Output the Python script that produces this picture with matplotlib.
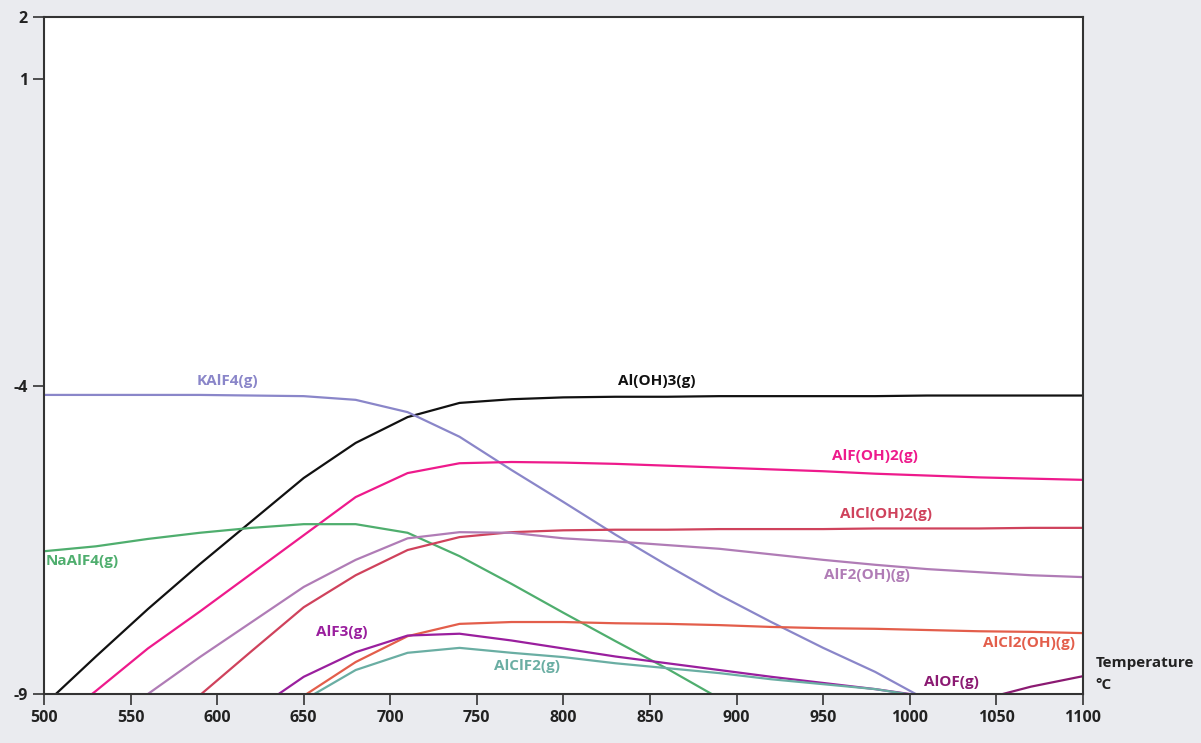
# gas species vs temperature, recreated from the reference picture

import numpy as np
import matplotlib
matplotlib.use('Agg')
import matplotlib.pyplot as plt

plt.rcParams['font.family'] = ['Open Sans', 'DejaVu Sans']
plt.rcParams['axes.unicode_minus'] = False

nan = np.nan

temps = [500, 530, 560, 590, 620, 650, 680, 710, 740, 770, 800,
         830, 860, 890, 920, 950, 980, 1010, 1040, 1070, 1100]

al_oh3 = [-9.18, -8.39, -7.62, -6.89, -6.19, -5.49, -4.92, -4.50, -4.27, -4.21, -4.18,
          -4.17, -4.17, -4.16, -4.16, -4.16, -4.16, -4.15, -4.15, -4.15, -4.15]
kalf4 = [-4.14, -4.14, -4.14, -4.14, -4.15, -4.16, -4.22, -4.42, -4.82, -5.36, -5.88,
         -6.41, -6.91, -7.39, -7.83, -8.25, -8.64, -9.1, nan, nan, nan]
alf_oh2 = [-9.6, -8.95, -8.26, -7.66, -7.04, -6.42, -5.80, -5.41, -5.25, -5.23, -5.24,
           -5.26, -5.29, -5.32, -5.35, -5.38, -5.42, -5.45, -5.48, -5.50, -5.52]
naalf4 = [-6.68, -6.60, -6.48, -6.38, -6.30, -6.24, -6.24, -6.38, -6.76, -7.21, -7.68,
          -8.14, -8.59, -9.07, nan, nan, nan, nan, nan, nan, nan]
alcl_oh2 = [nan, nan, -9.7, -9.02, -8.30, -7.59, -7.07, -6.66, -6.45, -6.37, -6.34,
            -6.33, -6.33, -6.32, -6.32, -6.32, -6.31, -6.31, -6.31, -6.30, -6.30]
alf2_oh = [nan, -9.6, -9.0, -8.40, -7.83, -7.26, -6.82, -6.47, -6.37, -6.38, -6.47,
           -6.52, -6.58, -6.64, -6.73, -6.82, -6.90, -6.97, -7.02, -7.07, -7.10]
alcl2_oh = [nan, nan, nan, nan, -9.8, -9.03, -8.48, -8.06, -7.86, -7.83, -7.83,
            -7.85, -7.86, -7.88, -7.91, -7.93, -7.94, -7.96, -7.98, -7.99, -8.01]
alf3 = [nan, nan, nan, nan, -9.3, -8.72, -8.32, -8.05, -8.02, -8.13, -8.26,
        -8.39, -8.50, -8.61, -8.72, -8.82, -8.92, -9.04, nan, nan, nan]
alclf2 = [nan, nan, nan, nan, nan, -9.1, -8.61, -8.33, -8.25, -8.33, -8.40,
          -8.50, -8.58, -8.66, -8.76, -8.84, -8.92, -9.05, nan, nan, nan]
alof = [nan, nan, nan, nan, nan, nan, nan, nan, nan, nan, nan,
        nan, nan, nan, nan, nan, nan, nan, -9.1, -8.88, -8.71]

series = [
    (al_oh3, '#111111'),
    (kalf4, '#8a86c9'),
    (alf_oh2, '#ee1a8c'),
    (naalf4, '#4fae6e'),
    (alcl_oh2, '#cf425c'),
    (alf2_oh, '#b07cb6'),
    (alcl2_oh, '#e35e4b'),
    (alf3, '#9a1f9e'),
    (alclf2, '#6aaea3'),
    (alof, '#8b1a72'),
]

# label text, x, y, colour, alignment
labels = [
    ('KAlF4(g)', 606, -3.92, '#8a86c9', 'center'),
    ('Al(OH)3(g)', 854, -3.92, '#111111', 'center'),
    ('AlF(OH)2(g)', 980, -5.14, '#ee1a8c', 'center'),
    ('AlCl(OH)2(g)', 986, -6.07, '#cf425c', 'center'),
    ('AlF2(OH)(g)', 975, -7.07, '#b07cb6', 'center'),
    ('NaAlF4(g)', 501, -6.84, '#4fae6e', 'left'),
    ('AlF3(g)', 672, -8.0, '#9a1f9e', 'center'),
    ('AlClF2(g)', 779, -8.55, '#6aaea3', 'center'),
    ('AlCl2(OH)(g)', 1069, -8.17, '#e35e4b', 'center'),
    ('AlOF(g)', 1024, -8.81, '#8b1a72', 'center'),
]

x_ticks = list(range(500, 1101, 50))
y_ticks = [2, 1, -4, -9]

bg = '#eaebef'
fig = plt.figure(figsize=(12.01, 7.43), dpi=100, facecolor=bg)
ax = fig.add_axes([0.0366, 0.0659, 0.8651, 0.9112])
ax.set_facecolor('white')

for vals, col in series:
    ax.plot(temps, vals, color=col, lw=1.6)

for txt, x, y, col, ha in labels:
    ax.text(x, y, txt, color=col, fontsize=11, fontweight='bold',
            ha=ha, va='center')

ax.set_xlim(500, 1100)
ax.set_ylim(-9, 2)
ax.set_xticks(x_ticks)
ax.set_yticks(y_ticks)
ax.tick_params(direction='out', length=8, width=1.2, color='#333333',
               labelsize=11.5, labelcolor='#222222')
for lab in ax.get_xticklabels() + ax.get_yticklabels():
    lab.set_fontweight('bold')
for sp in ax.spines.values():
    sp.set_color('#333333')
    sp.set_linewidth(1.5)

fig.text(0.912, 0.1077, 'Temperature', fontsize=11, fontweight='bold',
         color='#222222', va='center', ha='left')
fig.text(0.912, 0.078, '°C', fontsize=11, fontweight='bold',
         color='#222222', va='center', ha='left')

fig.savefig('out.png', dpi=100, facecolor=bg)
